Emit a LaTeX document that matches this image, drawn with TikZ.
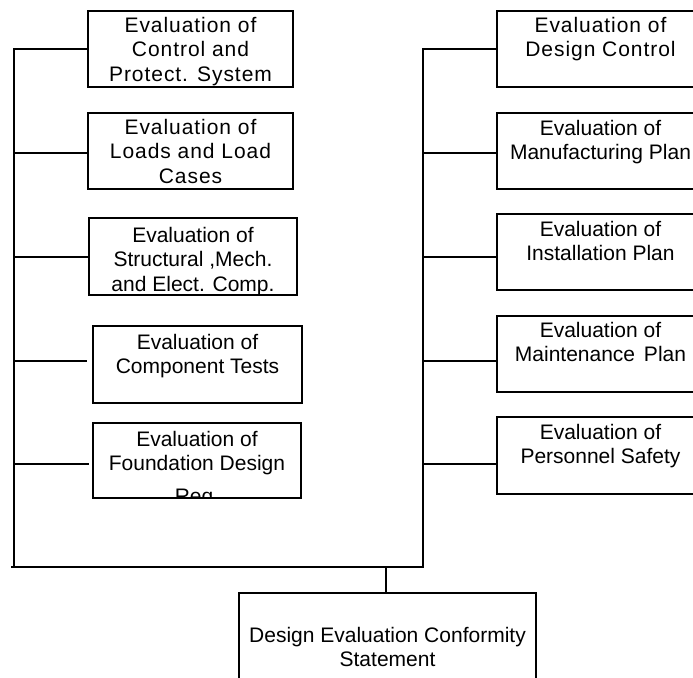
\documentclass[tikz,border=0pt]{standalone}
\usepackage{fontspec}
\setmainfont{Liberation Sans}
\newfontfamily\widefont[LetterSpace=4.5]{Liberation Sans}

\tikzset{
  box/.style={draw=black, line width=1.6pt, inner sep=0pt},
  lbl/.style={align=center, inner sep=0pt, anchor=north, text=black,
              font=\fontsize{21}{24.5}\selectfont},
  widelbl/.style={font=\widefont\fontsize{21}{24.5}\selectfont},
  link/.style={draw=black, line width=1.6pt},
}

% text of a box, clipped to the box outline; #3 = depth of the first
% baseline below the top edge (the 16pt strut fixes the first line height)
\newcommand\boxlabel[4][]{%
  \begin{scope}
    \clip (#2.south west) rectangle (#2.north east);
    \node[lbl,#1] (#2t) at ([yshift=-#3+16pt]#2.north) {\rule{0pt}{16pt}#4};
  \end{scope}}

\begin{document}
\begin{tikzpicture}[x=1pt, y=-1pt]
\useasboundingbox (0,0) rectangle (693,677);
\clip (0,0) rectangle (693,677);
\fill[white] (0,0) rectangle (693,677);

% left column
\node[box, minimum width=205pt, minimum height=76pt] (L1) at (190.5,49) {};
\node[box, minimum width=205pt, minimum height=76pt] (L2) at (190.5,151) {};
\node[box, minimum width=208pt, minimum height=77pt] (L3) at (193,256.5) {};
\node[box, minimum width=209pt, minimum height=77pt] (L4) at (197.5,364.5) {};
\node[box, minimum width=208pt, minimum height=75pt] (L5) at (197,460.5) {};

% right column
\node[box, minimum width=207pt, minimum height=76pt] (R1) at (600.5,49) {};
\node[box, minimum width=207pt, minimum height=76pt] (R2) at (600.5,151) {};
\node[box, minimum width=207pt, minimum height=76pt] (R3) at (600.5,252) {};
\node[box, minimum width=207pt, minimum height=76pt] (R4) at (600.5,354) {};
\node[box, minimum width=207pt, minimum height=77pt] (R5) at (600.5,455.5) {};

% result
\node[box, minimum width=297pt, minimum height=107pt] (B) at (387.5,646.5) {};

\boxlabel[widelbl]{L1}{22pt}{Evaluation of\\Control and\\Protect. System}
\boxlabel[widelbl]{L2}{22pt}{Evaluation of\\Loads and Load\\Cases}
\boxlabel{L3}{25pt}{Evaluation of\\Structural ,Mech.\\and Elect. Comp.}
\boxlabel{L4}{24pt}{Evaluation of\\Component Tests}
\boxlabel{L5}{24pt}{Evaluation of\\Foundation Design\\[8pt]Req.}

\boxlabel[widelbl]{R1}{22pt}{Evaluation of\\Design Control}
\boxlabel{R2}{23pt}{Evaluation of\\Manufacturing Plan}
\boxlabel{R3}{23pt}{Evaluation of\\Installation Plan}
\boxlabel{R4}{22pt}{Evaluation of\\Maintenance\hspace{3pt} Plan}
\boxlabel{R5}{23pt}{Evaluation of\\Personnel Safety}

\boxlabel{B}{50pt}{Design Evaluation Conformity\\Statement}

% junctions on the two trunks
\coordinate (jL1) at (14,49);
\coordinate (jL2) at (14,153);
\coordinate (jL3) at (14,257);
\coordinate (jL4) at (14,361);
\coordinate (jL5) at (14,464);
\coordinate (jR1) at (423,49);
\coordinate (jR2) at (423,153);
\coordinate (jR3) at (423,257);
\coordinate (jR4) at (423,361);
\coordinate (jR5) at (423,464);
\coordinate (lb) at (14,567);
\coordinate (bl) at (11,567);
\coordinate (rb) at (423,567);
\coordinate (stem) at (386,567);

% trunks and bottom bar
\draw[link] (jL1 -| L1.west) -- (jL1) -- (lb);
\draw[link] (bl) -- (rb) -- (jR1) -- (jR1 -| R1.west);
\draw[link] (stem) -- (stem |- B.north);

% branches
\draw[link] (jL2) -- (jL2 -| L2.west);
\draw[link] (jL3) -- (jL3 -| L3.west);
\draw[link] (jL4) -- ([xshift=-5pt]jL4 -| L4.west);
\draw[link] (jL5) -- ([xshift=-3pt]jL5 -| L5.west);
\draw[link] (jR2) -- (jR2 -| R2.west);
\draw[link] (jR3) -- (jR3 -| R3.west);
\draw[link] (jR4) -- (jR4 -| R4.west);
\draw[link] (jR5) -- (jR5 -| R5.west);
\end{tikzpicture}
\end{document}
